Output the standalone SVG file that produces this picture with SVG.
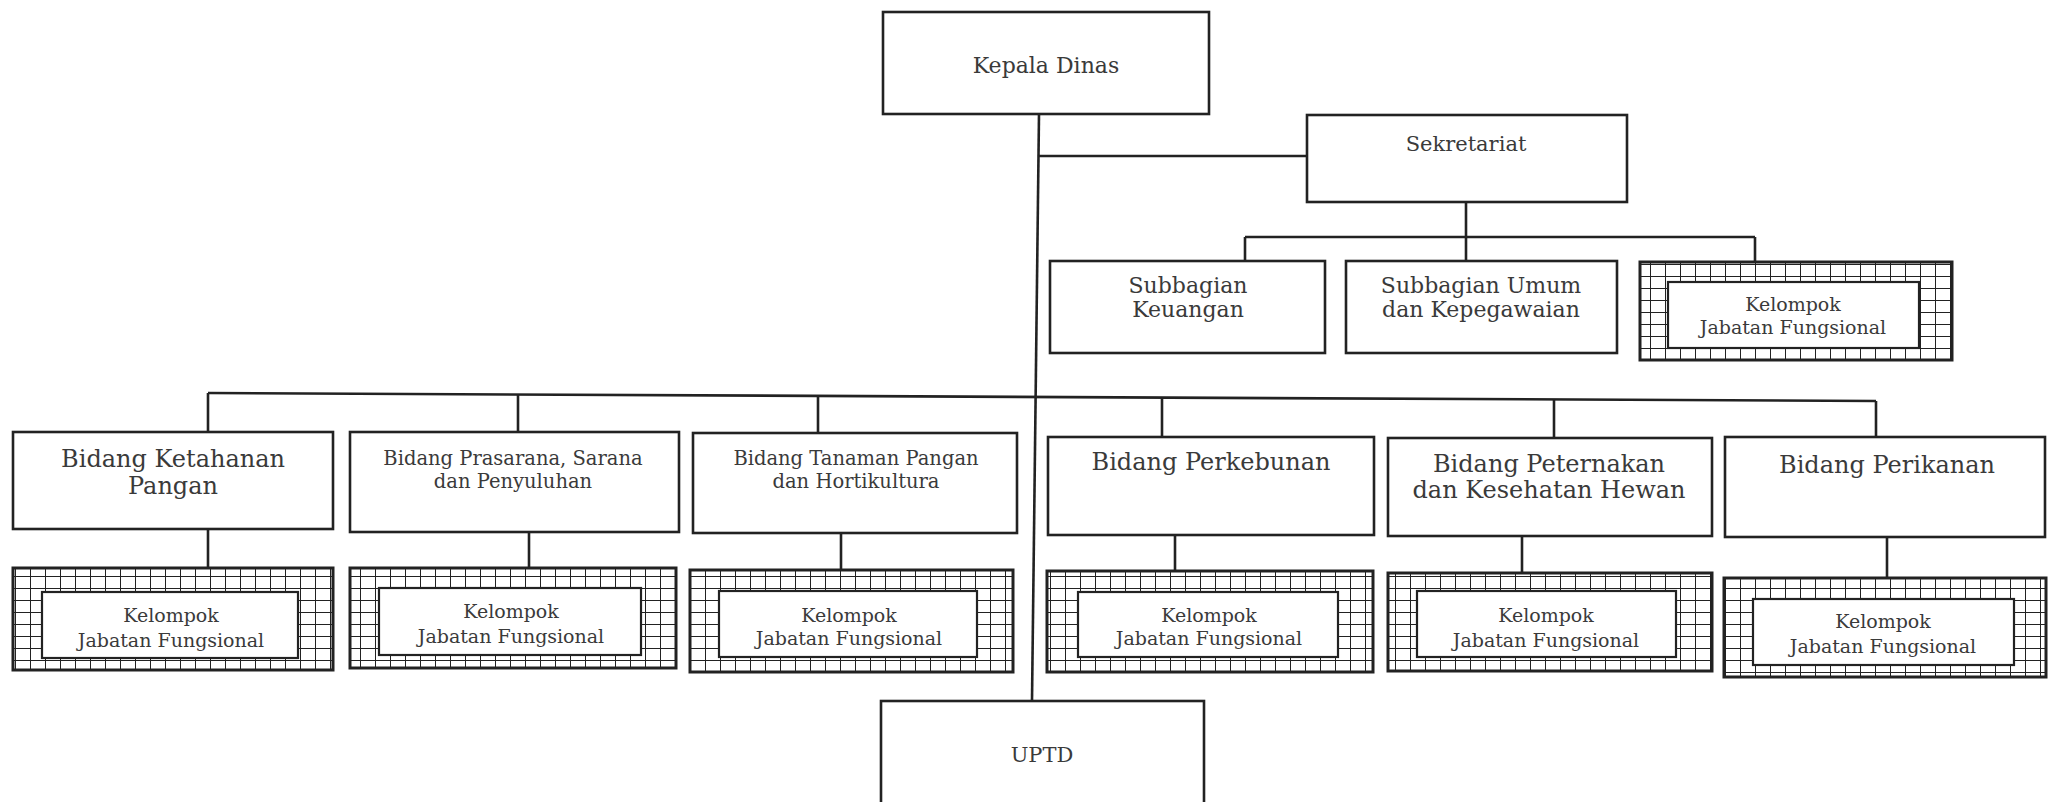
<svg xmlns="http://www.w3.org/2000/svg" width="2053" height="802" viewBox="0 0 2053 802">
<defs>
<pattern id="hatch" patternUnits="userSpaceOnUse" width="15" height="12">
<rect width="15" height="12" fill="#fff"/>
<path d="M0 0V12M0 0H15" stroke="#222" stroke-width="2" fill="none"/>
</pattern>
</defs>
<style>
.box{fill:#fff;stroke:#222;stroke-width:2.6}
.ko{fill:url(#hatch);stroke:#222;stroke-width:3}
.ki{fill:#fff;stroke:#222;stroke-width:2.2}
.conn line,.conn path{stroke:#222;stroke-width:2.6;fill:none}
text{font-family:"DejaVu Serif","Liberation Serif",serif;fill:#3a3a3a;text-anchor:middle}
.f24{font-size:24px}.f22{font-size:22px}.f21{font-size:21px}.f195{font-size:19.5px}.f19{font-size:19px}
</style>
<rect width="2053" height="802" fill="#fff"/>

<g id="connectors" class="conn">
<line x1="1039" y1="114" x2="1032" y2="701"/>
<line x1="1038" y1="156" x2="1307" y2="156"/>
<line x1="1466" y1="202" x2="1466" y2="261"/>
<line x1="1245" y1="237" x2="1755" y2="237"/>
<line x1="1245" y1="237" x2="1245" y2="261"/>
<line x1="1755" y1="237" x2="1755" y2="262"/>
<line x1="208" y1="393" x2="1876" y2="401"/>
<line x1="208" y1="393" x2="208" y2="432"/>
<line x1="518" y1="394.5" x2="518" y2="432"/>
<line x1="818" y1="396" x2="818" y2="433"/>
<line x1="1162" y1="397.6" x2="1162" y2="437"/>
<line x1="1554" y1="399.5" x2="1554" y2="438"/>
<line x1="1876" y1="401" x2="1876" y2="437"/>
<line x1="208" y1="529" x2="208" y2="568"/>
<line x1="529" y1="532" x2="529" y2="568"/>
<line x1="841" y1="533" x2="841" y2="570"/>
<line x1="1175" y1="535" x2="1175" y2="571"/>
<line x1="1522" y1="536" x2="1522" y2="573"/>
<line x1="1887" y1="537" x2="1887" y2="578"/>
</g>

<g id="kepala-dinas">
<rect class="box" x="883" y="12" width="326" height="102"/>
<text class="f22" x="1046" y="73">Kepala Dinas</text>
</g>

<g id="sekretariat">
<rect class="box" x="1307" y="115" width="320" height="87"/>
<text class="f21" x="1466" y="151">Sekretariat</text>
</g>

<g id="subbagian-keuangan">
<rect class="box" x="1050" y="261" width="275" height="92"/>
<text class="f22" x="1188" y="293">Subbagian</text>
<text class="f22" x="1188" y="317">Keuangan</text>
</g>

<g id="subbagian-umum">
<rect class="box" x="1346" y="261" width="271" height="92"/>
<text class="f22" x="1481" y="293">Subbagian Umum</text>
<text class="f22" x="1481" y="317">dan Kepegawaian</text>
</g>

<g id="kelompok-sekretariat">
<rect class="ko" x="1640" y="262" width="312" height="98"/>
<rect class="ki" x="1668" y="282" width="251" height="66"/>
<text class="f19" x="1793" y="311">Kelompok</text>
<text class="f19" x="1793" y="334">Jabatan Fungsional</text>
</g>

<g id="bidang-ketahanan">
<rect class="box" x="13" y="432" width="320" height="97"/>
<text class="f24" x="173" y="467">Bidang Ketahanan</text>
<text class="f24" x="173" y="494">Pangan</text>
</g>
<g id="kelompok-1">
<rect class="ko" x="13" y="568" width="320" height="102"/>
<rect class="ki" x="42" y="592" width="256" height="66"/>
<text class="f19" x="171" y="622">Kelompok</text>
<text class="f19" x="171" y="647">Jabatan Fungsional</text>
</g>

<g id="bidang-prasarana">
<rect class="box" x="350" y="432" width="329" height="100"/>
<text class="f195" x="513" y="465">Bidang Prasarana, Sarana</text>
<text class="f195" x="513" y="488">dan Penyuluhan</text>
</g>
<g id="kelompok-2">
<rect class="ko" x="350" y="568" width="326" height="100"/>
<rect class="ki" x="379" y="588" width="262" height="67"/>
<text class="f19" x="511" y="618">Kelompok</text>
<text class="f19" x="511" y="643">Jabatan Fungsional</text>
</g>

<g id="bidang-tanaman">
<rect class="box" x="693" y="433" width="324" height="100"/>
<text class="f195" x="856" y="465">Bidang Tanaman Pangan</text>
<text class="f195" x="856" y="488">dan Hortikultura</text>
</g>
<g id="kelompok-3">
<rect class="ko" x="690" y="570" width="323" height="102"/>
<rect class="ki" x="719" y="591" width="258" height="66"/>
<text class="f19" x="849" y="622">Kelompok</text>
<text class="f19" x="849" y="645">Jabatan Fungsional</text>
</g>

<g id="bidang-perkebunan">
<rect class="box" x="1048" y="437" width="326" height="98"/>
<text class="f24" x="1211" y="470">Bidang Perkebunan</text>
</g>
<g id="kelompok-4">
<rect class="ko" x="1047" y="571" width="326" height="101"/>
<rect class="ki" x="1078" y="592" width="260" height="65"/>
<text class="f19" x="1209" y="622">Kelompok</text>
<text class="f19" x="1209" y="645">Jabatan Fungsional</text>
</g>

<g id="bidang-peternakan">
<rect class="box" x="1388" y="438" width="324" height="98"/>
<text class="f24" x="1549" y="472">Bidang Peternakan</text>
<text class="f24" x="1549" y="498">dan Kesehatan Hewan</text>
</g>
<g id="kelompok-5">
<rect class="ko" x="1388" y="573" width="324" height="98"/>
<rect class="ki" x="1417" y="591" width="259" height="66"/>
<text class="f19" x="1546" y="622">Kelompok</text>
<text class="f19" x="1546" y="647">Jabatan Fungsional</text>
</g>

<g id="bidang-perikanan">
<rect class="box" x="1725" y="437" width="320" height="100"/>
<text class="f24" x="1887" y="473">Bidang Perikanan</text>
</g>
<g id="kelompok-6">
<rect class="ko" x="1724" y="578" width="322" height="99"/>
<rect class="ki" x="1753" y="599" width="261" height="66"/>
<text class="f19" x="1883" y="628">Kelompok</text>
<text class="f19" x="1883" y="653">Jabatan Fungsional</text>
</g>

<g id="uptd">
<rect class="box" x="881" y="701" width="323" height="110"/>
<text class="f21" x="1042" y="762">UPTD</text>
</g>
</svg>
